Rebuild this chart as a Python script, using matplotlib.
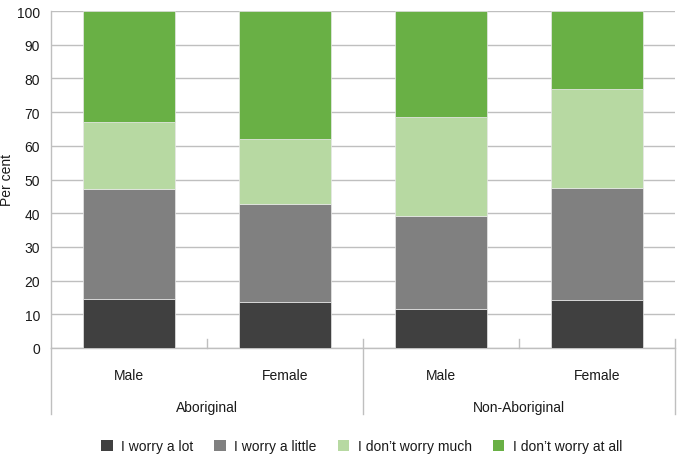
"""Stacked bar chart: worry levels by sex and Aboriginal status."""

import numpy as np
import matplotlib
matplotlib.use("Agg")
import matplotlib.pyplot as plt
from matplotlib.patches import Patch

plt.rcParams["font.family"] = ["Liberation Sans", "DejaVu Sans"]

# --- data -------------------------------------------------------------
sexes = ["Male", "Female", "Male", "Female"]
groups = ["Aboriginal", "Non-Aboriginal"]
series_names = ["I worry a lot", "I worry a little",
                "I don\u2019t worry much", "I don\u2019t worry at all"]

worry_a_lot = [14.5, 13.7, 11.5, 14.2]
worry_a_little = [32.6, 28.9, 27.8, 33.3]
dont_worry_much = [20.0, 19.3, 29.2, 29.4]
dont_worry_at_all = [32.9, 38.1, 31.5, 23.1]

colors = ["#404040", "#808080", "#b7d9a2", "#69b045"]
yticks = list(range(0, 101, 10))

# --- figure -----------------------------------------------------------
fig = plt.figure(figsize=(6.77, 4.60), dpi=100)
ax = fig.add_axes([51 / 677, 1 - 349 / 460, 624 / 677, 337 / 460])

text_color = "#1a1a1a"
grid_color = "#bfbfbf"
fs = 10

x = np.arange(len(sexes))
bottom = np.zeros(len(sexes))
series = [worry_a_lot, worry_a_little, dont_worry_much, dont_worry_at_all]
for vals, col, name in zip(series, colors, series_names):
    ax.bar(x, vals, bottom=bottom, width=0.587, color=col,
           edgecolor="#e8e8e8", linewidth=0.5, label=name, zorder=3)
    bottom += np.array(vals)

ax.set_xlim(-0.5, len(sexes) - 0.5)
ax.set_ylim(0, 100)
ax.set_yticks(yticks)
ax.tick_params(axis="y", length=0, pad=8, labelsize=fs, colors=text_color)
ax.tick_params(axis="x", length=0, labelbottom=False)
ax.set_xticks([])
ax.yaxis.grid(True, color=grid_color, linewidth=1, zorder=0)
ax.set_ylabel("Per cent", fontsize=fs, color=text_color)
ax.yaxis.set_label_coords(-37 / 624, 0.5)

for side in ["top", "right"]:
    ax.spines[side].set_visible(False)
for side in ["left", "bottom"]:
    ax.spines[side].set_color(grid_color)
    ax.spines[side].set_linewidth(1)

# multi-level category axis
trans = ax.get_xaxis_transform()
for xi, lab in zip(x, sexes):
    ax.text(xi, -0.08, lab, transform=trans, ha="center", va="center",
            fontsize=fs, color=text_color)
for gi, glab in enumerate(groups):
    ax.text(2 * gi + 0.5, -0.175, glab, transform=trans, ha="center",
            va="center", fontsize=fs, color=text_color)

# small ticks between bars within groups
for bx in [0.5, 2.5]:
    ax.plot([bx, bx], [0, 0.027], transform=trans, color=grid_color,
            linewidth=1, clip_on=False, zorder=4)
# group separators
for bx in [-0.5, 1.5, 3.5]:
    top = 0 if bx == -0.5 else 0.027
    ax.plot([bx, bx], [top, -0.196], transform=trans, color=grid_color,
            linewidth=1, clip_on=False, zorder=4)

handles = [Patch(facecolor=c, edgecolor="none") for c in colors]
fig.legend(handles, series_names, loc="center", ncol=4,
           bbox_to_anchor=(0.534, 1 - 447 / 460), frameon=False,
           fontsize=fs, handlelength=0.85, handleheight=0.85,
           handletextpad=0.6, columnspacing=1.5, labelcolor=text_color)

fig.savefig("out.png", dpi=100)
